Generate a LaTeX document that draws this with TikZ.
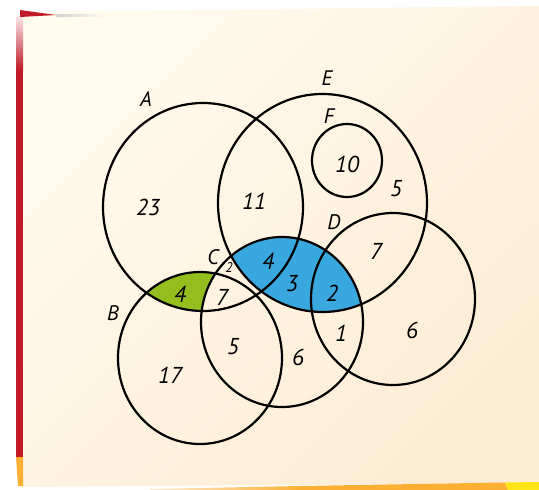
\documentclass[tikz,border=0pt]{standalone}
\usepackage{fontspec}
\setmainfont{PT Sans}
\definecolor{paperA}{RGB}{255,251,237}
\definecolor{paperB}{RGB}{253,236,212}
\definecolor{edgered}{RGB}{192,25,40}
\definecolor{edgeorange}{RGB}{251,176,52}
\definecolor{edgeyellow}{RGB}{255,229,21}
\definecolor{setblue}{RGB}{57,168,223}
\definecolor{setgreen}{RGB}{148,189,30}
\tikzset{
  setline/.style={line width=2.2pt, draw=black},
  setname/.style={font=\fontsize{21}{21}\selectfont\itshape, inner sep=0pt},
  count/.style={font=\fontsize{23}{23}\selectfont\itshape, inner sep=0pt},
  smallcount/.style={font=\fontsize{14}{14}\selectfont\itshape, inner sep=0pt}
}
\begin{document}
\begin{tikzpicture}[x=1pt,y=-1pt]
\useasboundingbox (0,0) rectangle (539,490);
\fill[white] (0,0) rectangle (539,490);
% paper
\shade[top color=paperA, bottom color=paperB, shading angle=45]
  (22,12) -- (539,6) -- (539,483) -- (22,487) -- cycle;
% left strips
\shade[top color=edgered!10, bottom color=edgered] (16,16) rectangle (23,70);
\fill[edgered] (16,70) rectangle (23,457);
\fill[edgeorange] (16,457) -- (23,457) -- (23,486) -- (18,486) -- cycle;
% top-left corner
\fill[edgered] (20,10) -- (56,15) -- (20,17) -- cycle;
\shade[left color=black!18, right color=paperA] (56,14.5) rectangle (105,16);
% bottom strips
\shade[left color=paperB, right color=edgeorange] (150,489) -- (300,486) -- (300,490) -- (150,490) -- cycle;
\fill[edgeorange] (300,486) -- (505,482.5) -- (508,490) -- (300,490) -- cycle;
\fill[edgeyellow] (505,482.5) -- (539,482) -- (539,490) -- (508,490) -- cycle;

% coloured regions
\begin{scope}
  \clip (282,322) ellipse [x radius=81pt, y radius=85pt];
  \fill[setblue] (322.5,203) ellipse [x radius=104.5pt, y radius=109pt];
\end{scope}
\begin{scope}
  \clip (203,207) ellipse [x radius=100pt, y radius=104pt];
  \clip (200,358) ellipse [x radius=82pt, y radius=86pt];
  \fill[setgreen, even odd rule] (0,0) rectangle (539,490)
     (282,322) ellipse [x radius=81pt, y radius=85pt];
\end{scope}

% sets
\draw[setline] (203,207) ellipse [x radius=100pt, y radius=104pt];
\draw[setline] (322.5,203) ellipse [x radius=104.5pt, y radius=109pt];
\draw[setline] (347,160.5) ellipse [x radius=35pt, y radius=36.5pt];
\draw[setline] (393,299) ellipse [x radius=82pt, y radius=86pt];
\draw[setline] (200,358) ellipse [x radius=82pt, y radius=86pt];
\draw[setline] (282,322) ellipse [x radius=81pt, y radius=85pt];

% set names
\node[setname] (lA) at (146,99) {A};
\node[setname] (lE) at (327,78) {E};
\node[setname] (lF) at (329,116) {F};
\node[setname] (lD) at (334,222) {D};
\node[setname] (lC) at (213,257) {C};
\node[setname] (lB) at (113,313) {B};

% counts
\node[count] (nA) at (148,207) {23};
\node[count] (nAE) at (254,201) {11};
\node[count] (nF) at (347,164) {10};
\node[count] (nE) at (396,189) {5};
\node[count] (nDE) at (376,251) {7};
\node[count] (nACE) at (268,261) {4};
\node[count] (nCE) at (292,284) {3};
\node[count] (nCDE) at (332,293) {2};
\node[count] (nAB) at (180,294) {4};
\node[count] (nABC) at (222,297) {7};
\node[count] (nBC) at (233,347) {5};
\node[count] (nB) at (170,375) {17};
\node[count] (nC) at (298,357) {6};
\node[count] (nCD) at (341,333) {1};
\node[count] (nD) at (412,330) {6};
\node[smallcount] (nAC) at (229,268) {2};
\end{tikzpicture}
\end{document}
